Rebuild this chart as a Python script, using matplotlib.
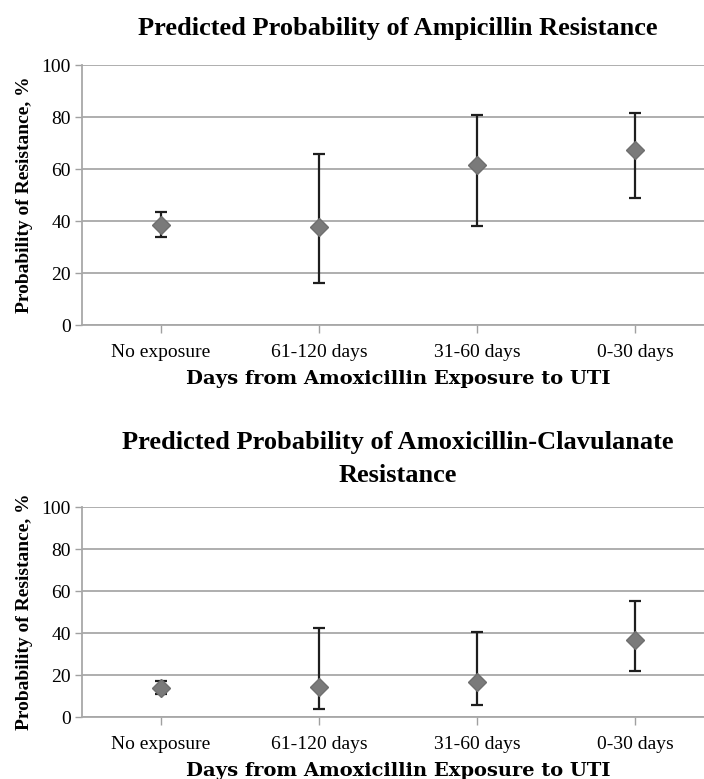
import matplotlib
matplotlib.use("Agg")
import matplotlib.pyplot as plt

categories = ["No exposure", "61-120 days", "31-60 days", "0-30 days"]

amp_est = [38.5, 37.8, 61.4, 67.4]
amp_low = [33.7, 16.3, 37.9, 48.8]
amp_high = [43.3, 65.8, 80.6, 81.7]

amc_est = [13.8, 14.2, 16.6, 36.7]
amc_low = [11.1, 3.9, 5.8, 21.7]
amc_high = [17.2, 42.5, 40.6, 55.1]

yticks = [0, 20, 40, 60, 80, 100]
title1 = "Predicted Probability of Ampicillin Resistance"
title2_lines = ["Predicted Probability of Amoxicillin-Clavulanate", "Resistance"]
xlabel = "Days from Amoxicillin Exposure to UTI"
ylabel = "Probability of Resistance, %"

W, H = 704, 779
fig = plt.figure(figsize=(W / 100, H / 100), dpi=100)
plt.rcParams['font.family'] = ['Liberation Serif', 'DejaVu Serif']

def make_axes(top, bottom):
    left, right = 82, 714
    return fig.add_axes([left / W, 1 - bottom / H, (right - left) / W, (bottom - top) / H])

def draw(ax, est, low, high):
    x = list(range(len(categories)))
    yerr = [[e - l for e, l in zip(est, low)], [h - e for e, h in zip(est, high)]]
    ax.errorbar(x, est, yerr=yerr, fmt='D', color='#7a7a7a', markersize=9,
                markeredgecolor='#6f6f6f', ecolor='#1e1e1e', elinewidth=1.6,
                capsize=4.5, capthick=1.6, zorder=3)
    ax.set_xlim(-0.5, 3.5)
    ax.set_ylim(0, 100)
    ax.set_yticks(yticks)
    ax.set_xticks(x)
    ax.set_xticklabels(categories, fontsize=14)
    ax.tick_params(axis='y', labelsize=14, length=5, color='#a0a0a0', width=1, pad=3)
    ax.tick_params(axis='x', length=6, color='#a0a0a0', width=1, pad=8)
    ax.grid(axis='y', color='#a8a8a8', linewidth=1.3)
    ax.set_axisbelow(True)
    for s in ['top', 'right']:
        ax.spines[s].set_visible(False)
    for s in ['left', 'bottom']:
        ax.spines[s].set_color('#a8a8a8')
        ax.spines[s].set_linewidth(1.3)
    ax.set_xlabel(xlabel, fontsize=14, fontweight='bold', labelpad=6,
                  family=['DejaVu Serif'])
    ax.set_ylabel(ylabel, fontsize=14, fontweight='bold', labelpad=6)

ax1 = make_axes(65, 325)
draw(ax1, amp_est, amp_low, amp_high)
ax2 = make_axes(507, 717)
draw(ax2, amc_est, amc_low, amc_high)

cx = 398 / W
fig.text(cx, 1 - 29 / H, title1, fontsize=19, fontweight='bold', ha='center', va='center')
fig.text(cx, 1 - 443 / H, title2_lines[0], fontsize=19, fontweight='bold', ha='center', va='center')
fig.text(cx, 1 - 475 / H, title2_lines[1], fontsize=19, fontweight='bold', ha='center', va='center')

fig.savefig("out.png", dpi=100)
